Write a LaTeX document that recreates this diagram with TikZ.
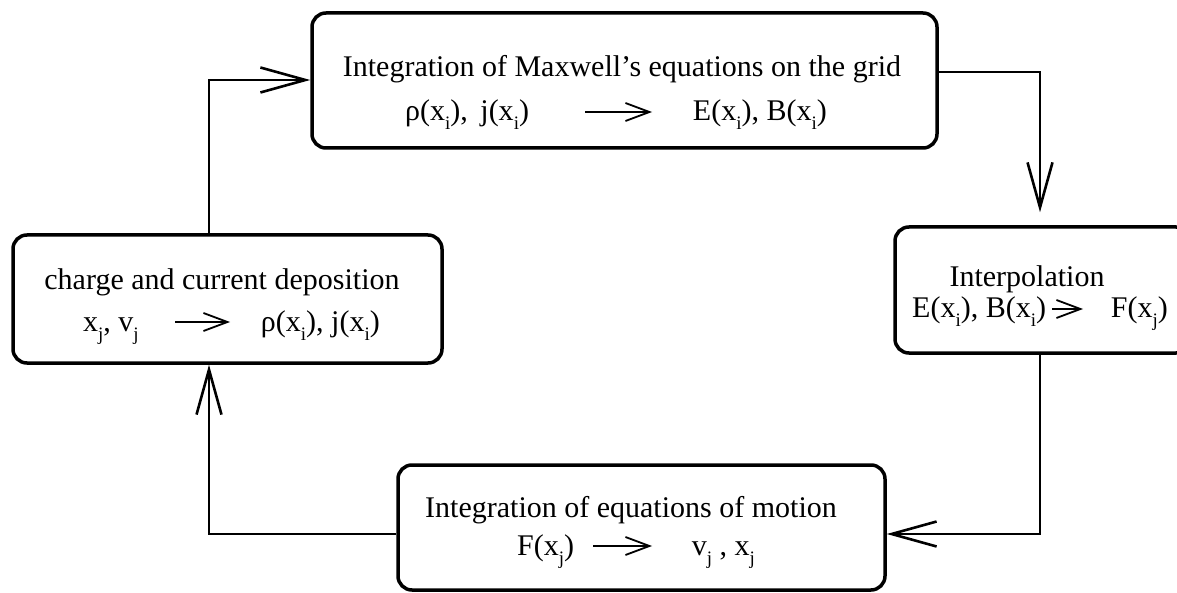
\documentclass[tikz,border=0pt]{standalone}
\usepackage{fontspec}
\setmainfont{Liberation Serif}
\usetikzlibrary{arrows.meta}
\newcommand\sbx[1]{\raisebox{-0.3em}{\fontsize{19}{19}\selectfont #1}}
\begin{document}
\begin{tikzpicture}[x=1pt,y=-1pt,
  box/.style={draw, line width=3.5pt, rounded corners=14pt, inner sep=0pt},
  conn/.style={line width=2.6pt, -{Straight Barb[length=45pt,width=25pt]}},
  iarr/.style={line width=1.8pt, -{Straight Barb[length=24pt,width=18pt]}},
  txt/.style={inner sep=0pt, font=\fontsize{30}{36}\selectfont}]
\useasboundingbox (0,0) rectangle (1177,593);
\clip (0,0) rectangle (1177,593);
% boxes
\node[box, minimum width=625pt, minimum height=135pt] (top) at (624.5,80.5) {};
\node[box, minimum width=429pt, minimum height=128pt] (left) at (227.5,299) {};
\node[box, minimum width=295pt, minimum height=126pt] (right) at (1042.5,290) {};
\node[box, minimum width=487pt, minimum height=125pt] (bottom) at (641.5,527.5) {};
% top texts
\node[txt, anchor=base] (t1) at (622,77) {Integration of Maxwell’s equations on the grid};
\node[txt, anchor=base west] (t2a) at (405,121) {ρ(x\sbx{i}),\, j(x\sbx{i})};
\node[txt, anchor=base east] (t2b) at (827,121) {E(x\sbx{i}), B(x\sbx{i})};
\coordinate (ta1) at (585,112); \coordinate (ta2) at (652,112);
\draw[iarr] (ta1) -- (ta2);
% left texts
\node[txt, anchor=base] (l1) at (222,290) {charge and current deposition};
\node[txt, anchor=base west] (l2a) at (83,331) {x\sbx{j}, v\sbx{j}};
\node[txt, anchor=base east] (l2b) at (380,331) {ρ(x\sbx{i}), j(x\sbx{i})};
\coordinate (la1) at (175,322); \coordinate (la2) at (230,322);
\draw[iarr] (la1) -- (la2);
% right texts
\node[txt, anchor=base] (r1) at (1027,287) {Interpolation};
\node[txt, anchor=base west] (r2a) at (912,318) {E(x\sbx{i}), B(x\sbx{i})};
\node[txt, anchor=base east] (r2b) at (1168,318) {F(x\sbx{j})};
\coordinate (ra1) at (1052,309); \coordinate (ra2) at (1083,309);
\draw[iarr] (ra1) -- (ra2);
% bottom texts
\node[txt, anchor=base] (b1) at (631,517) {Integration of equations of motion};
\node[txt, anchor=base west] (b2a) at (517,555) {F(x\sbx{j})};
\node[txt, anchor=base east] (b2b) at (755,555) {v\sbx{j} , x\sbx{j}};
\coordinate (ba1) at (593,546); \coordinate (ba2) at (652,546);
\draw[iarr] (ba1) -- (ba2);
% connectors
\draw[conn, shorten >=13pt] (top.east |- 0,72) -| (right.north -| 1040,0);
\draw[conn] (right.south -| 1040,0) |- (bottom.east |- 0,534);
\draw[conn] (bottom.west |- 0,534) -| (left.south -| 209,0);
\draw[conn] (left.north -| 209,0) |- (top.west |- 0,80);
\end{tikzpicture}
\end{document}
